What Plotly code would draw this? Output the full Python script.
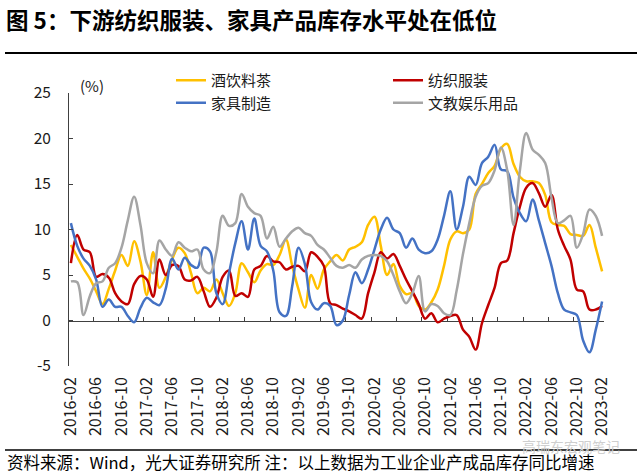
import plotly.graph_objects as go
import pandas as pd

# ---------------- data ----------------
months = pd.date_range("2016-02-01", "2023-02-01", freq="MS").strftime("%Y-%m").tolist()
tick_labels = ["2016-02", "2016-06", "2016-10", "2017-02", "2017-06", "2017-10",
               "2018-02", "2018-06", "2018-10", "2019-02", "2019-06", "2019-10",
               "2020-02", "2020-06", "2020-10", "2021-02", "2021-06", "2021-10",
               "2022-02", "2022-06", "2022-10", "2023-02"]
y_ticks = [-5, 0, 5, 10, 15, 20, 25]

drinks = [  # 酒饮料茶
    8.3, 7.0, 5.7, 4.6, 3.2, 1.8, 3.5, 5.5, 7.2, 6.0,
    8.7, 6.5, 2.8, 7.5, 3.6, 4.8, 6.7, 8.0, 7.4, 5.2,
    3.0, 3.6, 3.2, 4.5, 3.0, 1.6, 3.0, 6.3, 5.3, 4.2,
    5.5, 6.2, 6.1, 7.2, 8.9, 6.0, 3.4, 1.4, 5.0, 3.5,
    5.6, 6.5, 7.2, 6.6, 7.8, 8.1, 8.6, 10.5, 11.4, 8.2,
    5.0, 6.2, 3.8, 2.9, 3.0, 1.6, 1.2, 2.0, 3.4, 6.0,
    8.9, 9.8, 9.6, 10.0, 13.9, 15.0, 16.2, 17.0, 18.9, 19.4,
    17.2, 15.8, 15.3, 15.3, 15.1, 13.8, 10.8, 10.5, 10.4, 9.5,
    9.4, 9.3, 10.5, 8.0, 5.4]

textile = [  # 纺织服装
    6.3, 9.4, 7.8, 7.5, 4.8, 5.1, 4.7, 3.0, 2.1, 1.8,
    4.0, 4.9, 4.5, 2.6, 6.7, 5.0, 6.1, 6.0, 4.5, 4.4,
    4.8, 3.2, 1.5, 2.5, 4.8, 5.5, 2.7, 3.0, 2.6, 5.6,
    6.0, 7.1, 6.5, 6.4, 5.6, 5.9, 6.0, 5.4, 7.5, 7.0,
    6.0, 1.9, 1.7, 1.3, 1.0, 0.6, 0.2, 3.0, 5.3, 7.5,
    6.8, 7.3, 6.0, 4.5, 3.2, 1.8, 0.2, 0.8, -0.2, 0.2,
    0.5, 0.6, -1.0, -1.8, -3.2, -0.3, 1.7, 3.6, 6.3, 6.6,
    9.6, 12.5, 14.6, 15.1, 14.0, 12.5, 13.8, 10.0, 8.2, 6.7,
    3.4, 3.2, 1.2, 1.2, 1.6]

furniture = [  # 家具制造
    10.7, 8.2, 6.8, 6.0, 4.5, 1.5, 2.3, 1.5, 1.5, 0.5,
    -0.2, 1.4, 2.5, 2.0, 1.7, 3.5, 6.8, 5.6, 6.9, 6.1,
    5.8, 8.0, 7.6, 3.0, 1.8, 5.2, 8.5, 10.9, 7.8, 11.2,
    8.2, 7.6, 5.5, 0.9, 0.5, 3.8, 8.0, 6.2, 2.0, 1.2,
    1.9, 1.6, -0.5, 0.0, 2.8, 5.3, 4.1, 5.6, 7.8, 10.0,
    11.3, 10.0, 9.6, 8.0, 9.0, 7.8, 7.4, 7.6, 8.9, 11.5,
    14.2, 10.0, 12.5, 15.8, 14.9, 17.3, 18.0, 19.3, 16.6, 16.4,
    13.5, 11.8, 10.9, 13.3, 11.0, 8.5, 6.0, 3.0, 1.2, 0.9,
    0.6, -2.2, -3.5, -1.0, 2.1]

culture = [  # 文教娱乐用品
    4.3, 4.2, 0.6, 2.7, 4.1, 4.3, 5.8, 6.3, 8.0, 11.0,
    13.6, 10.5, 6.3, 5.2, 8.8, 7.8, 7.1, 8.6, 8.0, 7.6,
    7.8, 5.6, 5.2, 7.5, 11.5, 10.4, 10.7, 13.9, 12.5, 11.8,
    11.5, 9.0, 10.3, 8.1, 9.0, 9.8, 10.2, 9.6, 9.3, 8.3,
    7.8, 6.9, 6.0, 5.8, 6.1, 5.8, 6.7, 7.1, 7.2, 7.1,
    6.5, 5.0, 3.2, 1.9, 3.0, 4.9, 1.0, 1.8, 1.6, 0.8,
    0.6, 3.3, 7.3, 10.7, 13.6, 14.8, 15.1, 16.5, 19.0, 16.5,
    10.5, 16.5, 20.6, 18.8, 18.2, 17.3, 13.5, 10.7, 11.0, 11.5,
    8.0, 9.5, 12.2, 11.5, 9.3]

# name, values, colour, x-axis, legend column
series = [
    ("酒饮料茶", drinks, "#FFC000", "x", "legend"),
    ("纺织服装", textile, "#C00000", "x", "legend2"),
    ("家具制造", furniture, "#4472C4", "x", "legend"),
    ("文教娱乐用品", culture, "#A5A5A5", "x2", "legend2"),
]

# ---------------- layout helpers ----------------
W, H = 640, 476
L, R, T, B = 69, 36, 93, 110          # plot-area box, in pixels
PW, PH = W - L - R, H - T - B
FONT = "Noto Sans CJK SC"
AXC = "#404040"
TXT = "#1a1a1a"


def fx(px):
    return px / W


def fy(py):
    return 1 - py / H


zero_px = T + PH * (y_ticks[-1] - 0) / (y_ticks[-1] - y_ticks[0])

fig = go.Figure()
for name, vals, color, xa, lg in series:
    fig.add_trace(go.Scatter(
        x=months, y=vals, name=name, mode="lines", xaxis=xa, yaxis="y",
        legend=lg, legendgroup=name,
        line=dict(color=color, width=2.5, shape="spline", smoothing=1.0),
    ))

xrange = [-0.3, len(months) - 1 + 0.3]
legend_common = dict(
    xanchor="left", yanchor="top", itemwidth=30, tracegroupgap=3,
    font=dict(family=FONT, size=15, color=TXT), bgcolor="rgba(0,0,0,0)",
    traceorder="normal", orientation="v",
)

fig.update_layout(
    width=W, height=H,
    margin=dict(l=0, r=0, t=0, b=0, pad=0, autoexpand=False),
    paper_bgcolor="white", plot_bgcolor="white",
    font=dict(family=FONT, size=15, color=TXT),
    showlegend=True,
    legend=dict(x=fx(171), y=fy(64), **legend_common),
    legend2=dict(x=fx(388), y=fy(64), **legend_common),
    xaxis=dict(
        domain=[fx(L), fx(W - R)], anchor="y",
        type="category", categoryorder="array", categoryarray=months,
        range=xrange, tickmode="array", tickvals=tick_labels, ticktext=tick_labels,
        tickangle=-90, ticks="", showline=False, showgrid=False, zeroline=False,
        tickfont=dict(family=FONT, size=16, color=TXT),
        ticklabelstandoff=7, automargin=False,
    ),
    xaxis2=dict(
        domain=[fx(L), fx(W - R)],
        type="category", categoryorder="array", categoryarray=months,
        overlaying="x", anchor="free", position=fy(zero_px),
        range=xrange, tickmode="array", tickvals=tick_labels, tickson="boundaries",
        ticks="inside", ticklen=4, tickcolor=AXC, tickwidth=1,
        showticklabels=False, showline=True, linecolor=AXC, linewidth=1,
        showgrid=False, zeroline=False, layer="below traces", automargin=False,
    ),
    yaxis=dict(
        domain=[fy(H - B), fy(T)], anchor="x",
        range=[y_ticks[0], y_ticks[-1]], tickmode="array", tickvals=y_ticks,
        ticktext=[str(v) for v in y_ticks],
        showline=True, linecolor=AXC, linewidth=1, ticks="inside", ticklen=4,
        tickcolor=AXC, showgrid=False, zeroline=False,
        tickfont=dict(family=FONT, size=15.5, color=TXT),
        ticklabelstandoff=14, automargin=False,
    ),
)

# title, unit, footer
fig.add_annotation(
    text="<b>图 5：下游纺织服装、家具产品库存水平处在低位</b>",
    xref="paper", yref="paper", x=fx(4), y=fy(19), xanchor="left", yanchor="middle",
    showarrow=False, font=dict(family=FONT, size=22.5, color="#000000"),
)
fig.add_annotation(
    text="(%)", xref="paper", yref="paper", x=fx(92), y=fy(85),
    xanchor="center", yanchor="middle", showarrow=False,
    font=dict(family=FONT, size=15, color=TXT),
)
fig.add_annotation(
    text="资料来源：Wind，光大证券研究所 注：以上数据为工业企业产成品库存同比增速",
    xref="paper", yref="paper", x=fx(5), y=fy(462), xanchor="left", yanchor="middle",
    showarrow=False, font=dict(family=FONT, size=16.5, color="#000000"),
)
fig.add_annotation(
    text="高瑞东宏观笔记", xref="paper", yref="paper", x=fx(622), y=fy(446),
    xanchor="right", yanchor="middle", showarrow=False,
    font=dict(family=FONT, size=14, color="#cfcfcf"),
)

# rules under the title and above the footer
for yy, wd in ((53, 2), (450, 1.5)):
    fig.add_shape(type="line", xref="paper", yref="paper", layer="above",
                  x0=fx(5), x1=fx(637), y0=fy(yy), y1=fy(yy),
                  line=dict(color="#000000", width=wd))

fig.write_html(
    "out.html",
    config={"displayModeBar": False},
    post_script="document.body.style.margin='0';document.body.style.padding='0';",
)
